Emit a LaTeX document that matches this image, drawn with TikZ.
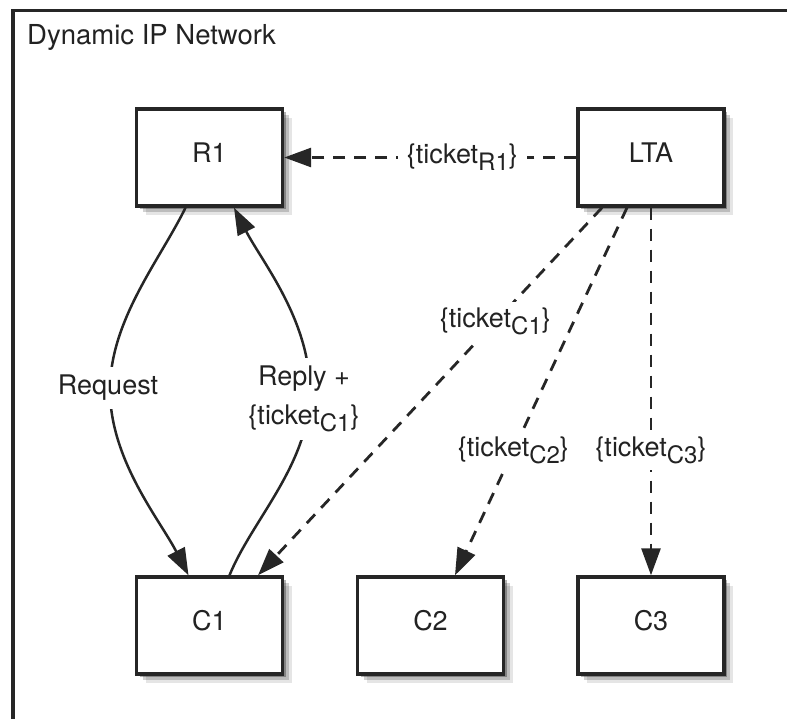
\documentclass[tikz,border=0pt]{standalone}
\usepackage{fontspec}
\setmainfont{TeX Gyre Heros}
\usetikzlibrary{arrows.meta,shadows}
\definecolor{ink}{HTML}{262626}
\definecolor{txt}{HTML}{222222}
\newcommand{\tick}[1]{\{ticket\raisebox{-7pt}{\fontsize{24}{24}\selectfont #1}\}}
\begin{document}
\begin{tikzpicture}[x=1pt,y=-1pt,
  box/.style={draw=ink, line width=3.4pt, fill=white, text=txt,
    minimum width=146pt, minimum height=97pt, inner sep=0pt,
    font=\fontsize{27}{32}\selectfont, text depth=10pt,
    drop shadow={shadow xshift=3pt,shadow yshift=-3pt,opacity=0.3,fill=black},
    drop shadow={shadow xshift=6pt,shadow yshift=-6pt,opacity=0.18,fill=black},
    drop shadow={shadow xshift=9pt,shadow yshift=-9pt,opacity=0.1,fill=black}},
  conn/.style={draw=ink, line width=2.5pt, -{Triangle[length=27pt,width=19pt]}},
  dconn/.style={conn, line width=2.8pt, dash pattern=on 12pt off 9pt},
  lbl/.style={fill=white, text=txt, font=\fontsize{27}{39}\selectfont,
    inner xsep=4pt, inner ysep=4pt, align=center},
  tlbl/.style={lbl, inner xsep=9pt, inner ysep=6pt},
  frame/.style={draw=ink, line width=3.6pt}]
\useasboundingbox (0,0) rectangle (787,719);
\clip (0,0) rectangle (787,719);
\draw[frame] (13,10.5) rectangle (820,760);
\node[anchor=base west, text=txt, inner sep=0pt, font=\fontsize{27.5}{30}\selectfont]
  (title) at (27,45) {Dynamic IP Network};

\node[box] (R1) at (209.5,157.5) {R1};
\node[box] (LTA) at (651,157.5) {LTA};
\node[box] (C1) at (209.5,625.5) {C1};
\node[box] (C2) at (430.5,625.5) {C2};
\node[box] (C3) at (651,625.5) {C3};

% Request
\draw[conn] ([xshift=-24pt]R1.south) .. controls (160,260) and (110,320) .. (110,390)
  .. controls (110,460) and (160,520) .. ([xshift=-21pt]C1.north);
% Reply
\draw[conn] ([xshift=20pt]C1.north) .. controls (252,520) and (309,465) .. (310,392)
  .. controls (310,320) and (262,262) .. ([xshift=24.5pt]R1.south);
\node[lbl, inner ysep=8pt] (req) at (108,388) {Request};
\node[lbl, inner ysep=8pt] (rep) at (304,399) {Reply +\\\tick{C1}};

% LTA tickets
\draw[dconn] (LTA.west) -- node[tlbl,pos=0.39]{\tick{R1}} (R1.east);
\draw[dconn] ([xshift=-49pt]LTA.south) -- node[tlbl,pos=0.31]{\tick{C1}} ([xshift=48.5pt]C1.north);
\draw[dconn] ([xshift=-24pt]LTA.south) -- node[tlbl,pos=0.66]{\tick{C2}} ([xshift=24.5pt]C2.north);
\draw[dconn] (LTA.south) -- node[tlbl,pos=0.66]{\tick{C3}} (C3.north);
\end{tikzpicture}
\end{document}
